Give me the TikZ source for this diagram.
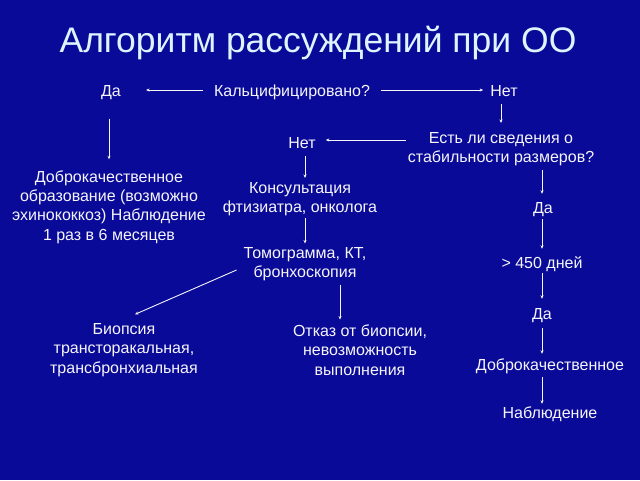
\documentclass[tikz,border=0pt]{standalone}
\usepackage{fontspec}
\setmainfont{Liberation Sans}
\usetikzlibrary{arrows.meta}
\definecolor{bg}{RGB}{10,10,152}
\definecolor{txt}{RGB}{245,245,250}
\definecolor{ttl}{RGB}{222,244,255}
\begin{document}
\begin{tikzpicture}[x=1pt,y=-1pt,
  lbl/.style={text=txt, font=\fontsize{16}{19.3}\selectfont, inner sep=0pt, align=center},
  one/.style={lbl, text height=11.5pt, text depth=3.5pt},
  arr/.style={draw=txt, line width=0.9pt, -{Stealth[length=3.5pt,width=3pt]}}]
\fill[bg] (0,0) rectangle (640,480);
\useasboundingbox (0,0) rectangle (640,480);
\node[text=ttl, font=\fontsize{35.5}{38}\selectfont, inner sep=0pt] (title) at (318,43) {Алгоритм рассуждений при ОО};

\node[one] (da1) at (111,92) {Да};
\node[one] (calc) at (292,92) {Кальцифицировано?};
\node[one] (net1) at (504,92) {Нет};
\node[lbl] (est) at (501,149) {Есть ли сведения о\\стабильности размеров?};
\node[one] (net2) at (302,144) {Нет};
\node[lbl] (kons) at (300,199) {Консультация\\фтизиатра, онколога};
\node[lbl] (tomo) at (305,264) {Томограмма, КТ,\\бронхоскопия};
\node[lbl] (biop) at (124,350) {Биопсия\\трансторакальная,\\трансбронхиальная};
\node[lbl] (otkaz) at (360,350) {Отказ от биопсии,\\невозможность\\выполнения};
\node[lbl] (dobr1) at (109,207) {Доброкачественное\\образование (возможно\\эхинококкоз) Наблюдение\\1 раз в 6 месяцев};
\node[one] (da2) at (543,209) {Да};
\node[one] (d450) at (542,264) {> 450 дней};
\node[one] (da3) at (542,315) {Да};
\node[one] (dobr2) at (550,366) {Доброкачественное};
\node[one] (nabl) at (550,414) {Наблюдение};

\draw[arr, shorten <=11pt, shorten >=25pt] ([yshift=2pt]calc.west) -- ([yshift=2pt]da1.east);
\draw[arr, shorten <=11pt, shorten >=7pt] ([yshift=2pt]calc.east) -- ([yshift=2pt]net1.west);
\draw[arr, shorten <=4pt, shorten >=9pt] (est.north |- net1.south) -- (est.north);
\draw[arr, shorten <=2pt, shorten >=10pt] ([yshift=9pt]est.west) -- ([yshift=9pt]est.west -| net2.east);
\draw[arr, shorten <=4pt, shorten >=4pt] ([xshift=3pt]net2.south) -- ([xshift=3pt]net2.south |- kons.north);
\draw[arr, shorten <=1.5pt, shorten >=3.5pt] (tomo.north |- kons.south) -- (tomo.north);
\draw[arr] ([xshift=-7pt,yshift=11pt]tomo.south west) -- ([xshift=11pt,yshift=9pt]biop.north);
\draw[arr, shorten <=3.5pt, shorten >=5pt] ([xshift=35pt]tomo.south) -- ([xshift=35pt]tomo.south |- otkaz.north);
\draw[arr, shorten <=19pt, shorten >=11pt] (dobr1.north |- da1.south) -- (dobr1.north);
\draw[arr, shorten <=3.5pt, shorten >=7.5pt] ([xshift=-1pt]da2.north |- est.south) -- ([xshift=-1pt]da2.north);
\draw[arr, shorten <=2.5pt, shorten >=7.5pt] ([xshift=-1pt]da2.south) -- ([xshift=-1pt]da2.south |- d450.north);
\draw[arr, shorten <=1.5pt, shorten >=8.5pt] (da3.north |- d450.south) -- (da3.north);
\draw[arr, shorten <=5.5pt, shorten >=4.5pt] (da3.south) -- (da3.south |- dobr2.north);
\draw[arr, shorten <=3.5pt, shorten >=2.5pt] (da3.south |- dobr2.south) -- (da3.south |- nabl.north);
\end{tikzpicture}
\end{document}
